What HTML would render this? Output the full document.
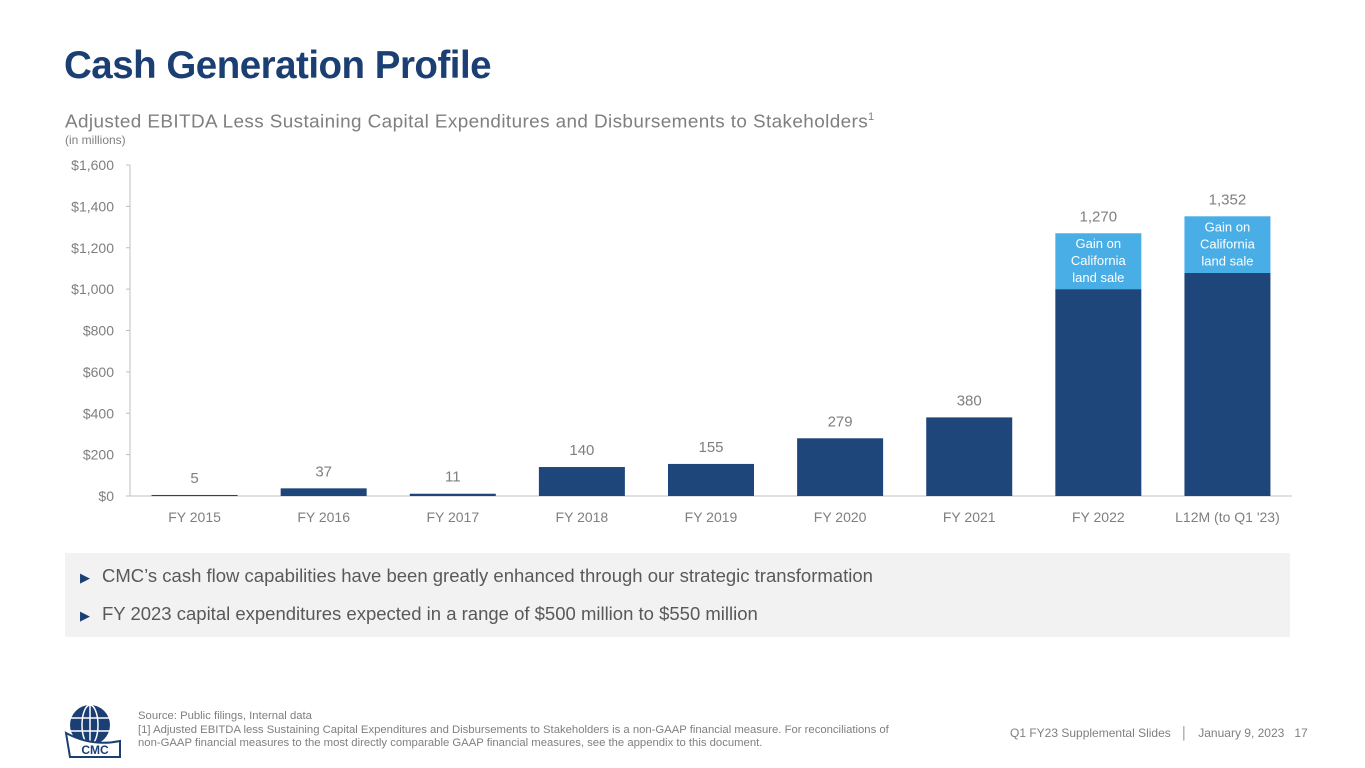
<!DOCTYPE html>
<html><head><meta charset="utf-8"><style>
body{margin:0;width:1365px;height:768px;background:#fff;font-family:"Liberation Sans",sans-serif;position:relative;overflow:hidden}
.abs{position:absolute}
</style></head><body>
<div class="abs" style="left:64px;top:44px;font-size:38.5px;font-weight:bold;color:#1b3f73;letter-spacing:-0.5px">Cash Generation Profile</div>
<div class="abs" style="left:65px;top:111px;font-size:18.9px;color:#7f7f7f;letter-spacing:0.4px">Adjusted EBITDA Less Sustaining Capital Expenditures and Disbursements to Stakeholders<sup style="font-size:11px">1</sup></div>
<div class="abs" style="left:65px;top:133px;font-size:12px;color:#7f7f7f">(in millions)</div>
<svg class="abs" style="left:0;top:0" width="1365" height="768" id="chart"></svg>
<div class="abs" style="left:65px;top:553px;width:1225px;height:84px;background:#f2f2f2"></div>
<div class="abs" style="left:80px;top:565px;font-size:18.5px;color:#595959"><span style="color:#1b3f73;font-size:13px;margin-right:12px">&#9654;</span>CMC’s cash flow capabilities have been greatly enhanced through our strategic transformation</div>
<div class="abs" style="left:80px;top:603px;font-size:18.5px;color:#595959"><span style="color:#1b3f73;font-size:13px;margin-right:12px">&#9654;</span>FY 2023 capital expenditures expected in a range of $500 million to $550 million</div>
<svg class="abs" style="left:62px;top:703px" width="64" height="56">
<circle cx="28" cy="22" r="20" fill="#1b3f73"/>
<g stroke="#fff" stroke-width="1.5" fill="none"><ellipse cx="28" cy="22" rx="8" ry="20"/><line x1="28" y1="2" x2="28" y2="42"/><line x1="8" y1="15" x2="48" y2="15"/><line x1="8" y1="28" x2="48" y2="28"/></g>
<path d="M4 30 Q30 44 58 38 L58 54 L8 54 Z" fill="#fff" stroke="#1b3f73" stroke-width="2"/>
<text x="33" y="51" font-size="12" font-weight="bold" fill="#1b3f73" text-anchor="middle" font-family="Liberation Sans">CMC</text>
</svg>
<div class="abs" style="left:138px;top:710px;font-size:11.3px;color:#7f7f7f;line-height:13.5px">Source: Public filings, Internal data<br>[1] Adjusted EBITDA less Sustaining Capital Expenditures and Disbursements to Stakeholders is a non-GAAP financial measure. For reconciliations of<br>non-GAAP financial measures to the most directly comparable GAAP financial measures, see the appendix to this document.</div>
<div class="abs" style="left:1010px;top:726px;font-size:12px;color:#7f7f7f">Q1 FY23 Supplemental Slides &nbsp;&nbsp;│&nbsp;&nbsp; January 9, 2023 &nbsp; 17</div>
<script>
const categories=["FY 2015","FY 2016","FY 2017","FY 2018","FY 2019","FY 2020","FY 2021","FY 2022","L12M (to Q1 '23)"];
const baseValues=[5,37,11,140,155,279,380,1000,1078];
const gainValues=[0,0,0,0,0,0,0,270,274];
const totalLabels=["5","37","11","140","155","279","380","1,270","1,352"];
const yTicks=[0,200,400,600,800,1000,1200,1400,1600];
const yTickLabels=["$0","$200","$400","$600","$800","$1,000","$1,200","$1,400","$1,600"];
const svg=document.getElementById('chart');const NS='http://www.w3.org/2000/svg';
const x0=130,x1=1292,yTop=165,yBot=496,yMax=1600;
const y=v=>yBot-(v/yMax)*(yBot-yTop);
const step=(x1-x0)/categories.length;const xc=i=>x0+step*(i+0.5);const bw=86;
function mk(t,a,txt){const e=document.createElementNS(NS,t);for(const k in a)e.setAttribute(k,a[k]);if(txt!==undefined)e.textContent=txt;svg.appendChild(e);return e;}
const ax=mk('line',{x1:x0,y1:yTop,x2:x0,y2:yBot,stroke:'#bfbfbf'});


const bx=mk('line',{x1:x0,y1:yBot,x2:x1,y2:yBot,stroke:'#bfbfbf'});


yTicks.forEach((v,i)=>{
 mk('line',{x1:x0-4,y1:y(v),x2:x0,y2:y(v),stroke:'#bfbfbf'});
 const t=mk('text',{x:x0-16,y:y(v)+5,'text-anchor':'end','font-size':14,fill:'#7f7f7f','font-family':'Liberation Sans'},yTickLabels[i]);
 
 
});
categories.forEach((c,i)=>{
 const b=mk('rect',{x:xc(i)-bw/2,y:y(baseValues[i]),width:bw,height:y(0)-y(baseValues[i]),fill:'#1f467a'});
 
 
 const top=baseValues[i]+gainValues[i];
 if(gainValues[i]>0){
  const g=mk('rect',{x:xc(i)-bw/2,y:y(top),width:bw,height:y(baseValues[i])-y(top),fill:'#4aaee6'});
  
  
  const mid=(y(top)+y(baseValues[i]))/2;
  ["Gain on","California","land sale"].forEach((s,k)=>{
   const gt=mk('text',{x:xc(i),y:mid-13+k*17,'text-anchor':'middle','font-size':13,fill:'#fff','font-family':'Liberation Sans'},s);
   
   
  });
 }
 const lt=mk('text',{x:xc(i),y:y(top)-12,'text-anchor':'middle','font-size':15,fill:'#7f7f7f','font-family':'Liberation Sans'},totalLabels[i]);
 
 
 const ct=mk('text',{x:xc(i),y:yBot+26,'text-anchor':'middle','font-size':14,fill:'#7f7f7f','font-family':'Liberation Sans'},c);
 
 
});
</script>
</body></html>
